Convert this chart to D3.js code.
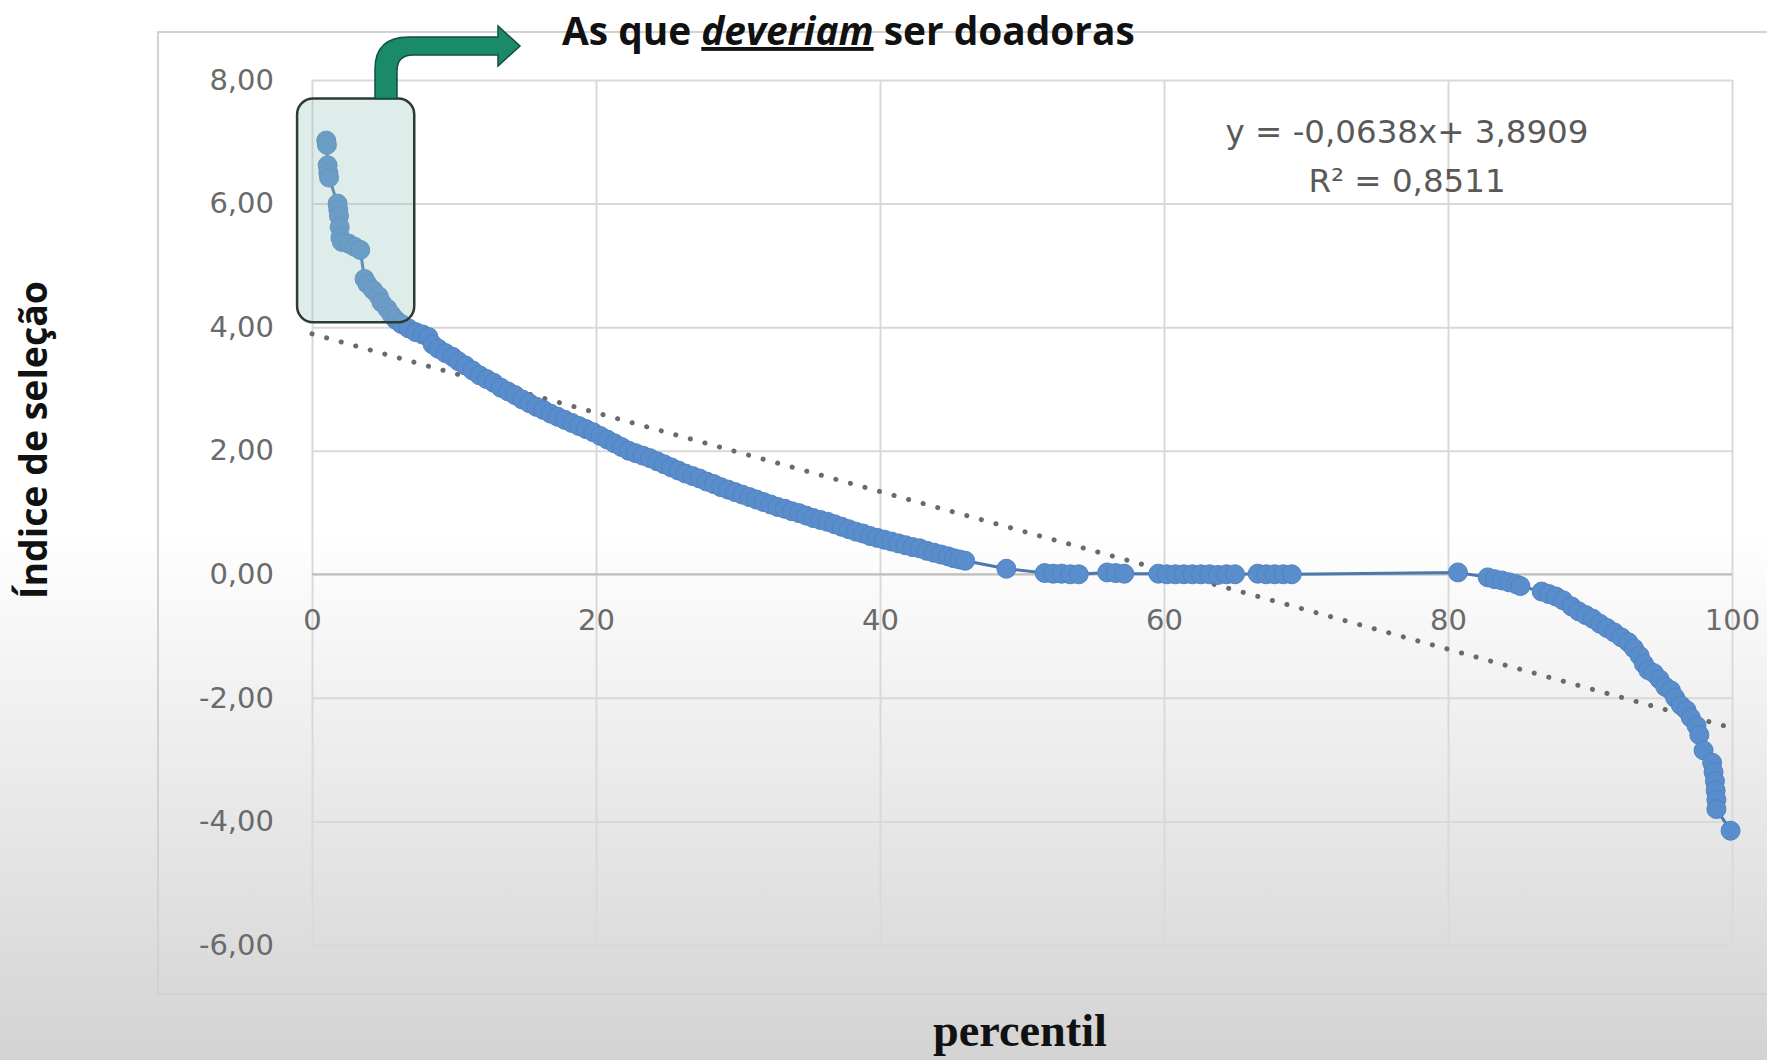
<!DOCTYPE html>
<html>
<head>
<meta charset="utf-8">
<script src="https://cdn.jsdelivr.net/npm/d3@7"></script>
<style>
  body { margin: 0; overflow: hidden; }
</style>
</head>
<body>
<script>
// data: percentil vs índice de seleção
const percentil = [
  1.0, 1.05, 1.1, 1.15, 1.2, 1.8, 1.85, 1.9, 1.95, 2.0, 2.1, 2.6, 3.0, 3.4, 3.7, 3.9, 4.3, 4.7, 4.9, 5.3,
  5.6, 5.9, 6.3, 6.8, 7.3, 7.8, 8.2, 8.5, 8.9, 9.4, 9.9, 10.3, 10.8, 11.3, 11.8, 12.3, 12.8, 13.3, 13.8, 14.3,
  14.8, 15.3, 15.8, 16.3, 16.8, 17.3, 17.8, 18.3, 18.8, 19.3, 19.8, 20.3, 20.8, 21.3, 21.8, 22.3, 22.8, 23.3, 23.8, 24.3,
  24.8, 25.3, 25.8, 26.3, 26.8, 27.3, 27.8, 28.3, 28.8, 29.3, 29.8, 30.3, 30.8, 31.3, 31.8, 32.3, 32.8, 33.3, 33.8, 34.3,
  34.8, 35.3, 35.8, 36.3, 36.8, 37.3, 37.8, 38.3, 38.8, 39.3, 39.8, 40.3, 40.8, 41.3, 41.8, 42.3, 42.8, 43.3, 43.8, 44.3,
  44.8, 45.2, 45.6, 46.0, 48.9, 51.6, 52.2, 52.8, 53.4, 54.0, 56.0, 56.6, 57.2, 59.6, 60.2, 60.8, 61.4, 62.0, 62.6, 63.2,
  63.8, 64.4, 65.0, 66.6, 67.2, 67.8, 68.4, 69.0, 80.7, 82.8, 83.3, 83.8, 84.3, 84.8, 85.1, 86.6, 87.1, 87.6, 88.1, 88.7,
  89.2, 89.7, 90.2, 90.7, 91.2, 91.7, 92.2, 92.7, 93.1, 93.5, 93.8, 94.1, 94.5, 94.9, 95.3, 95.7, 96.0, 96.4, 96.8, 97.1,
  97.5, 97.7, 98.0, 98.6, 98.7, 98.8, 98.85, 98.9, 98.9, 99.9
];
const indice = [
  7.02, 6.95, 6.62, 6.5, 6.42, 6.0, 5.9, 5.8, 5.62, 5.45, 5.38, 5.35, 5.3, 5.25, 4.78, 4.7, 4.6, 4.5, 4.4, 4.3,
  4.2, 4.12, 4.05, 3.98, 3.92, 3.88, 3.84, 3.72, 3.65, 3.58, 3.52, 3.45, 3.38, 3.3, 3.22, 3.16, 3.1, 3.02, 2.96, 2.9,
  2.83, 2.77, 2.71, 2.66, 2.6, 2.55, 2.5, 2.45, 2.4, 2.35, 2.3, 2.24, 2.18, 2.12, 2.06, 2.0, 1.96, 1.92, 1.88, 1.83,
  1.78, 1.73, 1.68, 1.63, 1.59, 1.55, 1.5, 1.46, 1.41, 1.37, 1.33, 1.29, 1.25, 1.21, 1.17, 1.13, 1.09, 1.06, 1.02, 0.99,
  0.95, 0.91, 0.88, 0.85, 0.81, 0.77, 0.73, 0.69, 0.66, 0.62, 0.59, 0.56, 0.53, 0.5, 0.47, 0.44, 0.42, 0.38, 0.35, 0.32,
  0.29, 0.26, 0.24, 0.22, 0.09, 0.02, 0.01, 0.01, 0.0, 0.0, 0.03, 0.02, 0.01, 0.01, 0.0, 0.0, 0.0, 0.0, 0.0, 0.0,
  -0.01, 0.0, 0.0, 0.01, 0.0, 0.0, 0.0, 0.0, 0.03, -0.05, -0.08, -0.1, -0.13, -0.16, -0.19, -0.28, -0.32, -0.36, -0.42, -0.52,
  -0.6, -0.66, -0.72, -0.8, -0.87, -0.94, -1.02, -1.1, -1.2, -1.32, -1.45, -1.55, -1.6, -1.7, -1.82, -1.88, -2.0, -2.12, -2.2, -2.32,
  -2.45, -2.6, -2.85, -3.05, -3.2, -3.35, -3.5, -3.65, -3.8, -4.15
];
const xTicks = [0, 20, 40, 60, 80, 100];
const yTicks = [-6, -4, -2, 0, 2, 4, 6, 8];
// linear trend as printed on the chart
const trendSlope = -0.0638, trendIntercept = 3.8909;
const trendLabels = ["y = -0,0638x+ 3,8909", "R² = 0,8511"];

const canvWidth = 1767, canvHeight = 1060;
const svg = d3.select("body").append("svg")
    .attr("width", canvWidth)
    .attr("height", canvHeight);

// slide background: white fading to gray at the bottom
const defs = svg.append("defs");
const grad = defs.append("linearGradient")
    .attr("id", "bg").attr("x1", 0).attr("y1", 0).attr("x2", 0).attr("y2", 1);
grad.append("stop").attr("offset", "0.5").attr("stop-color", "#ffffff");
grad.append("stop").attr("offset", "1").attr("stop-color", "#d3d3d3");
svg.append("rect").attr("width", canvWidth).attr("height", canvHeight).attr("fill", "url(#bg)");

// chart area border
svg.append("rect")
    .attr("x", 158).attr("y", 32)
    .attr("width", 1700).attr("height", 962)
    .attr("fill", "none")
    .attr("stroke", "#d2d2d2")
    .attr("stroke-width", 2);

const margin = { top: 80, left: 312 };
const width = 1420, height = 865;
const g = svg.append("g")
    .attr("transform", "translate(" + margin.left + "," + margin.top + ")");

const xScale = d3.scaleLinear().domain([0, 100]).range([0, width]);
const yScale = d3.scaleLinear().domain([-6, 8]).range([height, 0]);

const locale = d3.formatLocale({ decimal: ",", thousands: ".", grouping: [3], currency: ["", ""], minus: "-" });
const fmt = locale.format(".2f");

// grid
g.append("g")
    .call(d3.axisLeft(yScale).tickValues(yTicks).tickSize(-width).tickFormat(""))
    .call(a => a.select(".domain").remove())
    .selectAll("line").attr("stroke", "#d9d9d9").attr("stroke-width", 2);
g.append("g")
    .call(d3.axisTop(xScale).tickValues(xTicks).tickSize(-height).tickFormat(""))
    .call(a => a.select(".domain").remove())
    .selectAll("line").attr("stroke", "#d9d9d9").attr("stroke-width", 2);

// zero line
g.append("line")
    .attr("x1", 0).attr("x2", width)
    .attr("y1", yScale(0)).attr("y2", yScale(0))
    .attr("stroke", "#bfbfbf").attr("stroke-width", 2);

// y tick labels
const yAxis = g.append("g")
    .call(d3.axisLeft(yScale).tickValues(yTicks).tickSize(0).tickPadding(38).tickFormat(fmt));
yAxis.select(".domain").remove();
yAxis.selectAll("text")
    .attr("font-family", "DejaVu Sans")
    .attr("font-size", "29px")
    .attr("fill", "#6a6a6a");

// x tick labels sitting under the zero line
const xAxis = g.append("g")
    .attr("transform", "translate(0," + yScale(0) + ")")
    .call(d3.axisBottom(xScale).tickValues(xTicks).tickSize(0).tickPadding(35));
xAxis.select(".domain").remove();
xAxis.selectAll("text")
    .attr("font-family", "DejaVu Sans")
    .attr("font-size", "29px")
    .attr("fill", "#6a6a6a");

// dotted trend line
g.append("line")
    .attr("x1", xScale(0)).attr("y1", yScale(trendIntercept))
    .attr("x2", xScale(100)).attr("y2", yScale(trendIntercept + trendSlope * 100))
    .attr("stroke", "#6a6a6a")
    .attr("stroke-width", 5)
    .attr("stroke-linecap", "round")
    .attr("stroke-dasharray", "0.1 15");

// series line + markers
const points = percentil.map((p, i) => ({ x: p, y: indice[i] }));
g.append("path")
    .datum(points)
    .attr("fill", "none")
    .attr("stroke", "#4e77ad")
    .attr("stroke-width", 3)
    .attr("d", d3.line().x(d => xScale(d.x)).y(d => yScale(d.y)));
g.selectAll("circle")
    .data(points)
    .enter()
    .append("circle")
    .attr("cx", d => xScale(d.x))
    .attr("cy", d => yScale(d.y))
    .attr("r", 9.5)
    .attr("fill", "#5a8dcc")
    .attr("stroke", "#5083c2")
    .attr("stroke-width", 1);

// trend equation
const eqTexts = trendLabels.map((t, i) => g.append("text")
    .attr("x", 1095)
    .attr("y", 63 + i * 49)
    .attr("text-anchor", "middle")
    .attr("font-family", "DejaVu Sans")
    .attr("font-size", "28px")
    .attr("fill", "#595959")
    .text(t));

// highlight box over the top points
const bx0 = xScale(-1.05), bx1 = xScale(7.2), by0 = yScale(7.7), by1 = yScale(4.08);
g.append("rect")
    .attr("x", bx0).attr("y", by0)
    .attr("width", bx1 - bx0).attr("height", by1 - by0)
    .attr("rx", 16)
    .attr("fill", "rgba(150,195,185,0.3)")
    .attr("stroke", "#2d3a36")
    .attr("stroke-width", 2.5);

// bent green arrow from the box to the title
const sx0 = 375 - margin.left, sx1 = 397 - margin.left, top0 = 37 - margin.top, top1 = 55 - margin.top;
const boxTop = by0, headBase = 498 - margin.left, tip = 520 - margin.left;
const arrow = d3.path();
arrow.moveTo(sx0, boxTop);
arrow.lineTo(sx0, top0 + 32);
arrow.quadraticCurveTo(sx0, top0, sx0 + 34, top0);
arrow.lineTo(headBase, top0);
arrow.lineTo(headBase, top0 - 11);
arrow.lineTo(tip, (top0 + top1) / 2);
arrow.lineTo(headBase, top1 + 11);
arrow.lineTo(headBase, top1);
arrow.lineTo(sx1 + 16, top1);
arrow.quadraticCurveTo(sx1, top1, sx1, top1 + 16);
arrow.lineTo(sx1, boxTop);
arrow.closePath();
g.append("path")
    .attr("d", arrow.toString())
    .attr("fill", "#1a8a68")
    .attr("stroke", "#124f3e")
    .attr("stroke-width", 1.5);

// fit a text element to a target width
function fit(sel, target) {
    const size = parseFloat(sel.attr("font-size"));
    const len = sel.node().getComputedTextLength();
    sel.attr("font-size", (size * target / len) + "px");
}
fit(eqTexts[0], 363);
eqTexts[1].attr("font-size", eqTexts[0].attr("font-size"));

// title
const title = svg.append("text")
    .attr("x", 562).attr("y", 45)
    .attr("font-family", "Open Sans")
    .attr("font-weight", "bold")
    .attr("font-size", "34px")
    .attr("fill", "#111");
title.append("tspan").text("As que ");
title.append("tspan").attr("font-style", "italic").attr("text-decoration", "underline").text("deveriam");
title.append("tspan").text(" ser doadoras");
fit(title, 573);

// axis titles
const yTitle = svg.append("text")
    .attr("transform", "translate(47,440) rotate(-90)")
    .attr("text-anchor", "middle")
    .attr("font-family", "Open Sans")
    .attr("font-weight", "bold")
    .attr("font-size", "30px")
    .attr("fill", "#111")
    .text("Índice de seleção");
fit(yTitle, 318);

const xTitle = svg.append("text")
    .attr("x", 1020).attr("y", 1046)
    .attr("text-anchor", "middle")
    .attr("font-family", "Liberation Serif")
    .attr("font-weight", "bold")
    .attr("font-size", "34px")
    .attr("fill", "#111")
    .text("percentil");
fit(xTitle, 174);
</script>
</body>
</html>
